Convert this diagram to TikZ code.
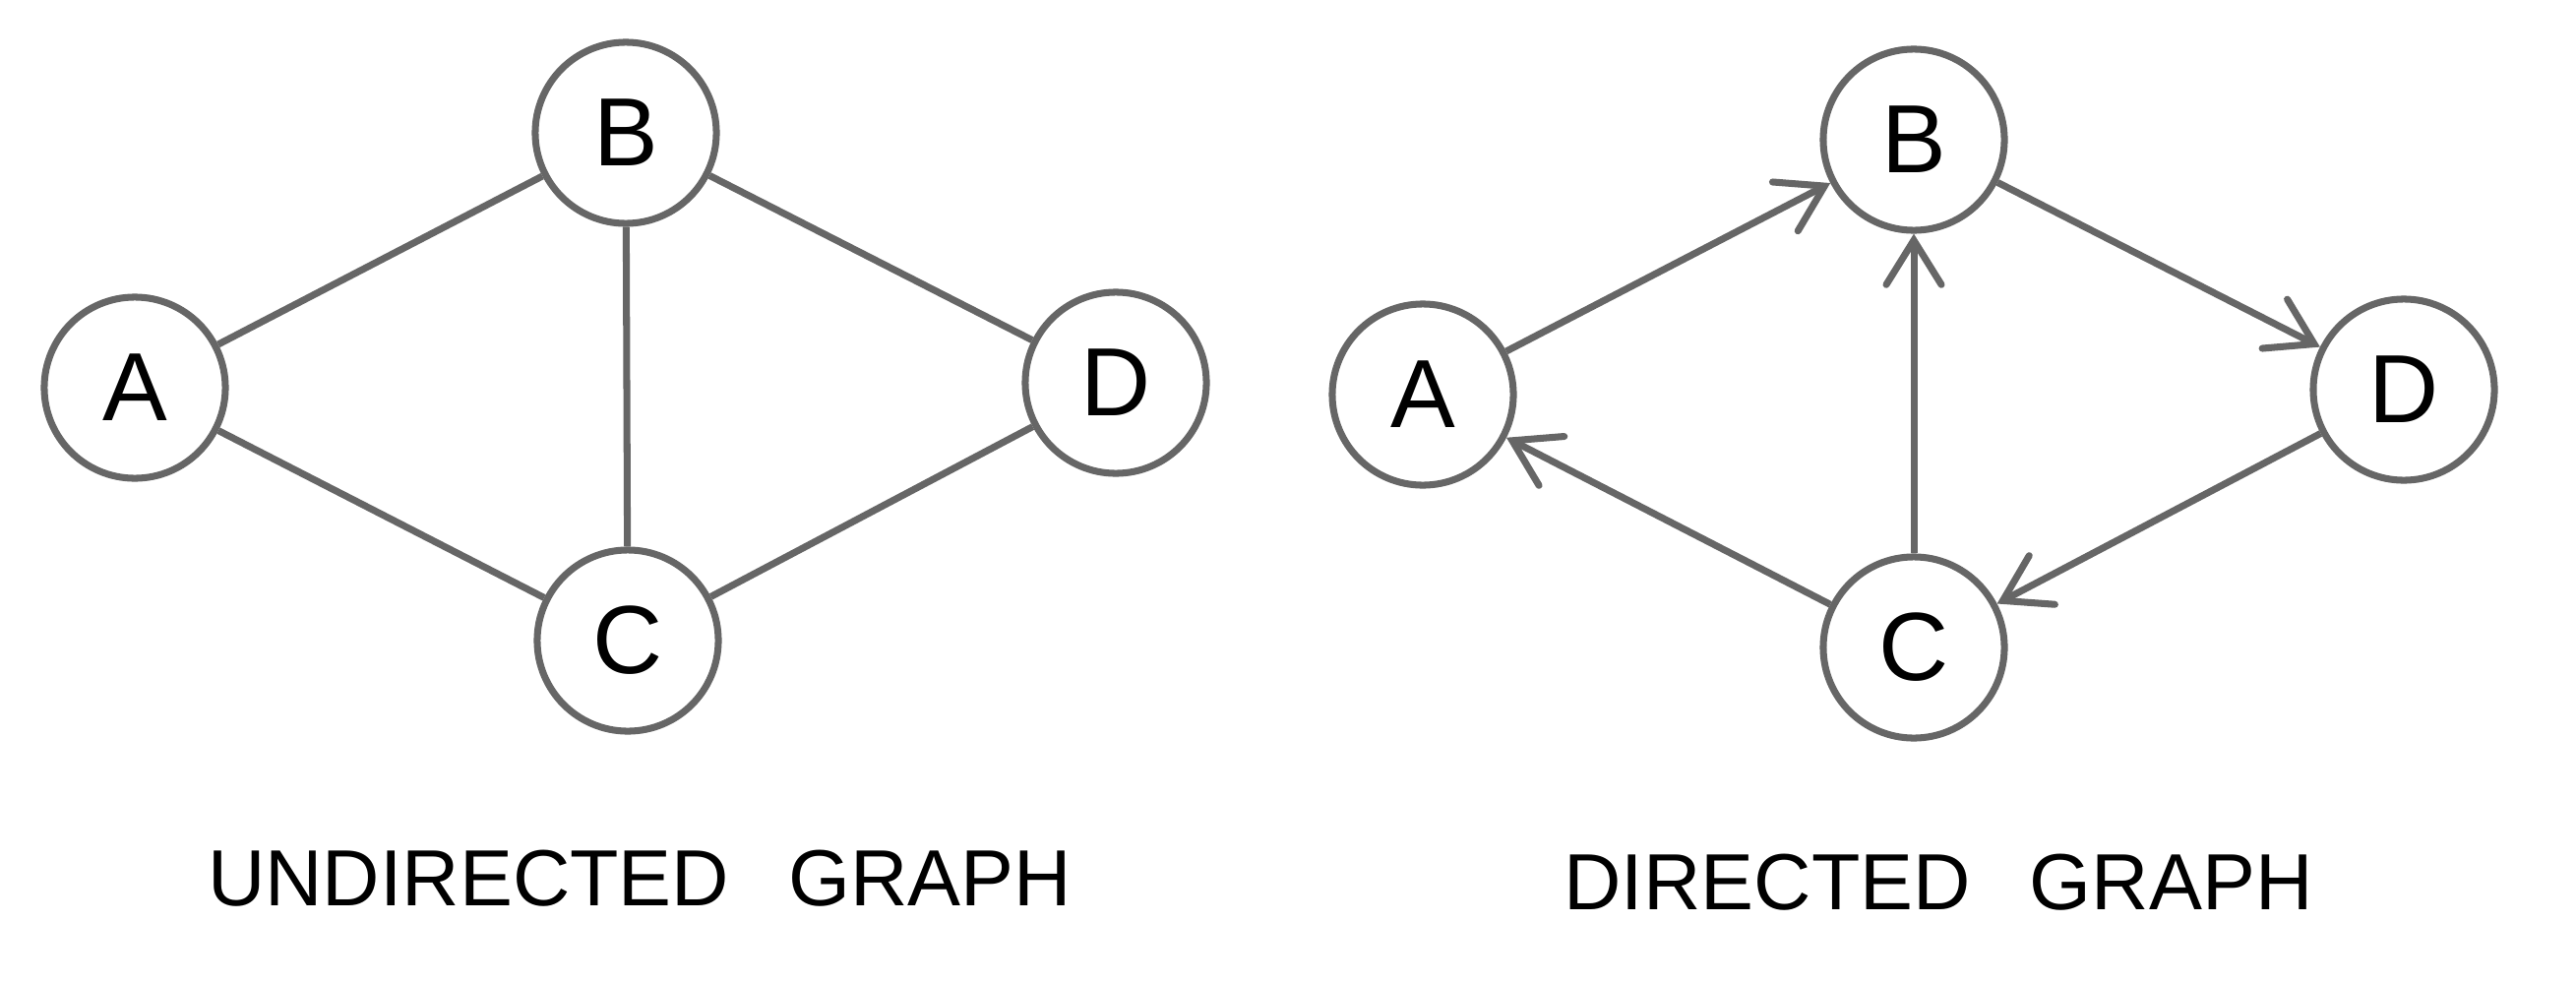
\documentclass[tikz,border=0pt]{standalone}
\usepackage{fontspec}
\setmainfont{Liberation Sans}
\usetikzlibrary{arrows.meta}
\definecolor{edgegray}{HTML}{666666}
\tikzset{
  vertex/.style={circle, draw=edgegray, line width=2pt, minimum size=1.84cm, inner sep=0pt,
    font=\fontsize{28}{30}\selectfont},
  edge/.style={draw=edgegray, line width=2pt},
  arc/.style={edge, -{Straight Barb[length=0.45cm, width=0.56cm, line cap=round]}},
  caption/.style={font=\fontsize{23}{26}\selectfont, inner sep=0pt}
}
\begin{document}
\begin{tikzpicture}[x=0.01cm, y=-0.01cm]
\useasboundingbox (0,0) rectangle (2618,1000);
% undirected
\node[vertex] (uA) at (137,394) {A};
\node[vertex] (uB) at (636,135) {B};
\node[vertex] (uC) at (638,651) {C};
\node[vertex] (uD) at (1134,389) {D};
\draw[edge] (uA) -- (uB);
\draw[edge] (uA) -- (uC);
\draw[edge] (uB) -- (uC);
\draw[edge] (uB) -- (uD);
\draw[edge] (uC) -- (uD);
% directed
\node[vertex] (dA) at (1446,401) {A};
\node[vertex] (dB) at (1945,142) {B};
\node[vertex] (dC) at (1945,658) {C};
\node[vertex] (dD) at (2443,396) {D};
\draw[arc] (dA) -- (dB);
\draw[arc] (dB) -- (dD);
\draw[arc] (dD) -- (dC);
\draw[arc] (dC) -- (dB);
\draw[arc] (dC) -- (dA);
% captions
\node[caption] (cap1) at (650,893) {UNDIRECTED\hspace{0.6cm}GRAPH};
\node[caption] (cap2) at (1970,897) {DIRECTED\hspace{0.6cm}GRAPH};
\end{tikzpicture}
\end{document}
